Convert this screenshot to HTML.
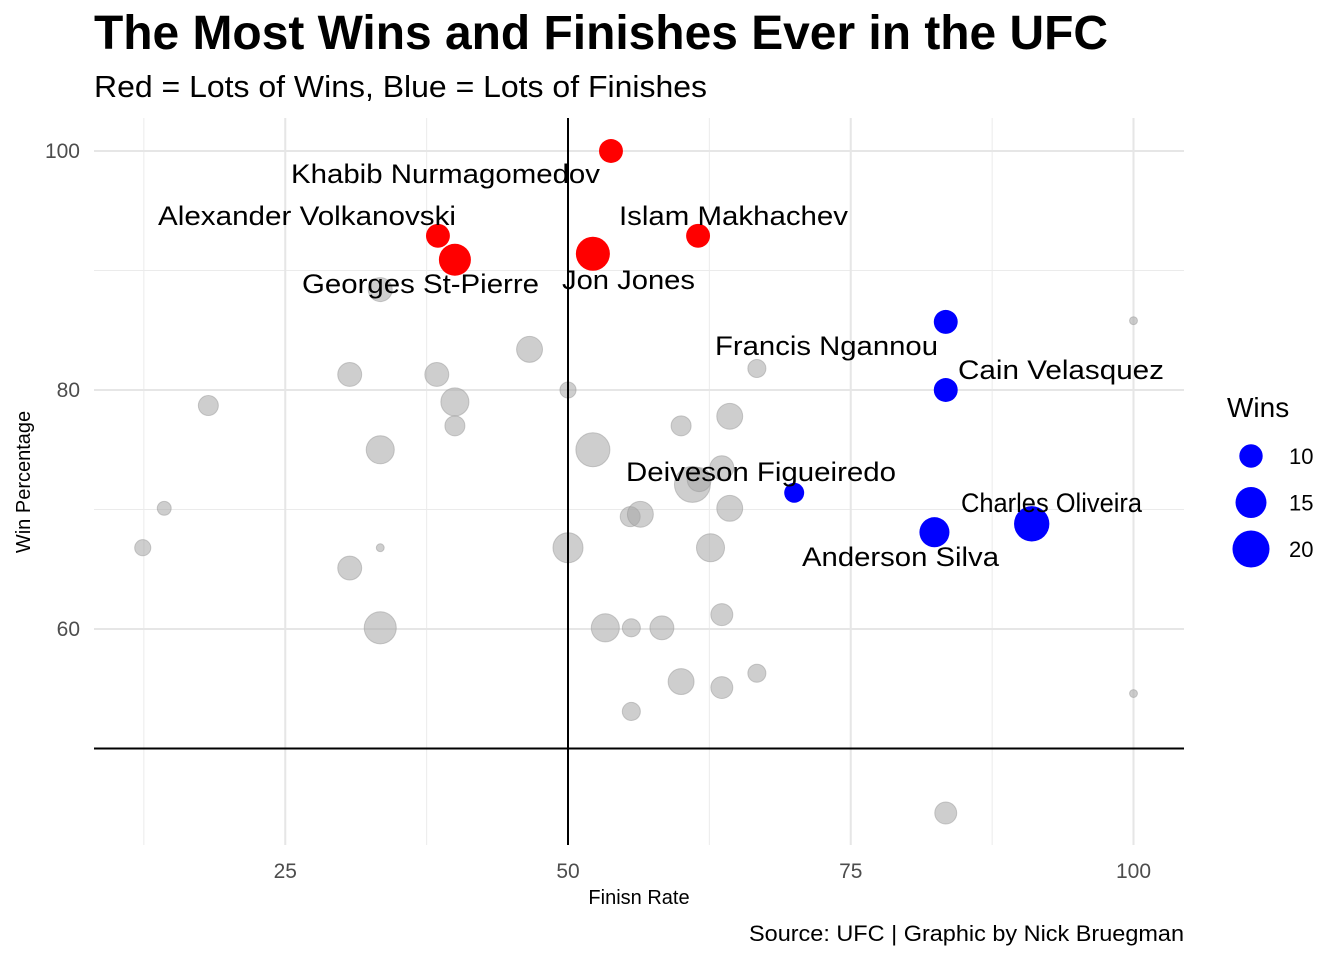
<!DOCTYPE html>
<html><head><meta charset="utf-8"><style>
body{margin:0;background:#fff;font-family:"Liberation Sans",Arial,sans-serif}
svg text{font-family:"Liberation Sans",Arial,sans-serif}
</style></head><body>
<svg id="chart" width="1344" height="960" xmlns="http://www.w3.org/2000/svg">
<text x="94" y="49" font-size="48" font-weight="bold" fill="#000" textLength="1014" lengthAdjust="spacingAndGlyphs">The Most Wins and Finishes Ever in the UFC</text>
<text x="94" y="97" font-size="31" fill="#000" textLength="613" lengthAdjust="spacingAndGlyphs">Red = Lots of Wins, Blue = Lots of Finishes</text>
<g id="grid"></g>
<g id="pts"></g>
<g id="labels"></g>
<g id="axes"></g>
<text x="639" y="904" font-size="20" text-anchor="middle" fill="#000">Finisn Rate</text>
<text transform="translate(30,482) rotate(-90)" font-size="20" text-anchor="middle" fill="#000">Win Percentage</text>
<text x="749" y="941" font-size="22" fill="#000" textLength="435" lengthAdjust="spacingAndGlyphs">Source: UFC | Graphic by Nick Bruegman</text>
<g id="legend"></g>
</svg>
<script>
const names=["Khabib Nurmagomedov","Alexander Volkanovski","Georges St-Pierre","Jon Jones","Islam Makhachev","Francis Ngannou","Cain Velasquez","Deiveson Figueiredo","Anderson Silva","Charles Oliveira"];
const namedX=[53.8,38.5,40,52.2,61.5,83.4,83.4,70,82.4,91];
const namedY=[100,92.9,90.9,91.4,92.9,85.7,80,71.4,68.1,68.8];
const namedWins=[10.3,10.3,15.8,17.4,10.3,10.3,10.3,8.2,14.3,18.5];
const namedColor=["red","red","red","red","red","blue","blue","blue","blue","blue"];
const labelX=[445.5,307,420.5,628.5,733.5,826.5,1061,761,900.5,1051.5];
const labelY=[183,225,293,289,225,355,379,481,566,512];
const labelW=[309,298,237,133,229,223,206,270,197,181];
const grayX=[33.4,46.6,30.7,38.4,18.2,40,40,50,66.7,100,33.4,52.2,60,64.3,14.3,12.4,33.4,30.7,50,55.5,56.4,61,63.6,61.6,64.3,62.6,33.4,53.3,55.6,58.3,63.6,60,63.6,66.7,55.6,100,83.4];
const grayY=[88.4,83.4,81.3,81.3,78.7,79,77,80,81.8,85.8,75,75,77,77.8,70.1,66.8,66.8,65.1,66.8,69.4,69.6,72.1,73.5,72.5,70.1,66.8,60.1,60.1,60.1,60.1,61.2,55.6,55.1,56.3,53.1,54.6,44.6];
const grayWins=[10.3,11.5,10.3,10.3,8.2,12.9,8.2,6.5,7.3,4.1,12.9,17.4,8.2,11.5,5.7,6.5,4.1,10.3,14.3,8.2,11.5,19,10.3,10.3,11.5,12.9,15.8,12.9,7.3,10.3,9.2,11.5,9.2,7.3,7.3,4.1,9.2];
const xTicks=[25,50,75,100];
const yTicks=[60,80,100];
const legendWins=[10,15,20];

const NS="http://www.w3.org/2000/svg";
const L=94,R=1184,T=118,B=845;
const sx=v=>568+(v-50)*11.31;
const sy=v=>390-(v-80)*11.95;
const rad=w=>Math.sqrt(Math.max(20.6*w-69,9));
function mk(tag,attrs,parent){const e=document.createElementNS(NS,tag);for(const k in attrs)e.setAttribute(k,attrs[k]);parent.appendChild(e);return e;}
const grid=document.getElementById('grid');
[12.5,37.5,62.5,87.5].forEach(v=>{const l=mk('line',{x1:sx(v),x2:sx(v),y1:T,y2:B,stroke:'#ebebeb','stroke-width':1},grid);

});
[50,70,90].forEach(v=>{const l=mk('line',{x1:L,x2:R,y1:sy(v),y2:sy(v),stroke:'#ebebeb','stroke-width':1},grid);

});
xTicks.forEach(v=>{const l=mk('line',{x1:sx(v),x2:sx(v),y1:T,y2:B,stroke:'#e6e6e6','stroke-width':2},grid);


const t=mk('text',{x:sx(v),y:878,'font-size':21,'text-anchor':'middle',fill:'#4d4d4d'},grid);t.textContent=v;

});
yTicks.forEach(v=>{const l=mk('line',{x1:L,x2:R,y1:sy(v),y2:sy(v),stroke:'#e6e6e6','stroke-width':2},grid);


const t=mk('text',{x:80,y:sy(v)+7,'font-size':21,'text-anchor':'end',fill:'#4d4d4d'},grid);t.textContent=v;

});
const axes=document.getElementById('axes');
const hl=mk('line',{x1:L,x2:R,y1:sy(50),y2:sy(50),stroke:'#000','stroke-width':2},axes);


const vl=mk('line',{x1:sx(50),x2:sx(50),y1:T,y2:B,stroke:'#000','stroke-width':2},axes);


const pts=document.getElementById('pts');
grayX.forEach((v,i)=>{const c=mk('circle',{cx:sx(v),cy:sy(grayY[i]),r:rad(grayWins[i]),fill:'#a6a6a6','fill-opacity':0.55,stroke:'#999','stroke-opacity':0.5},pts);

});
namedX.forEach((v,i)=>{const c=mk('circle',{cx:sx(v),cy:sy(namedY[i]),r:rad(namedWins[i]),fill:namedColor[i]},pts);

});
const labs=document.getElementById('labels');
names.forEach((n,i)=>{const t=mk('text',{x:labelX[i],y:labelY[i],'font-size':27,'text-anchor':'middle',fill:'#000',textLength:labelW[i],lengthAdjust:'spacingAndGlyphs'},labs);t.textContent=n;

});
const lg=document.getElementById('legend');
const lt=mk('text',{x:1227,y:417,'font-size':28,fill:'#000'},lg);lt.textContent='Wins';


legendWins.forEach((w,i)=>{const y=456+i*46.5;
const c=mk('circle',{cx:1251,cy:y,r:rad(w),fill:'blue'},lg);


const t=mk('text',{x:1289,y:y+8,'font-size':22,fill:'#000'},lg);t.textContent=w;

});
</script>
</body></html>
